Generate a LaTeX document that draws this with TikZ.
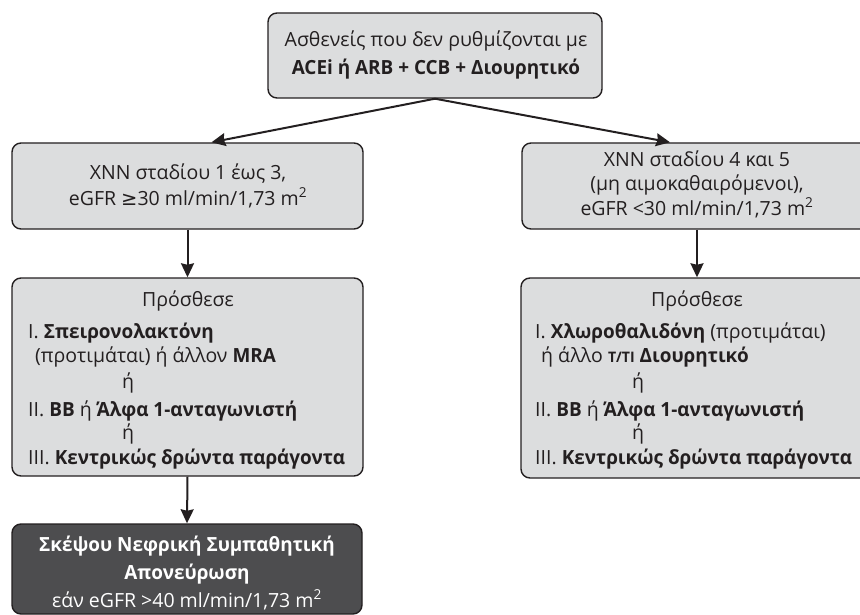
\documentclass[tikz,border=0pt]{standalone}
\usepackage{fontspec}
\setmainfont{Open Sans}[BoldFeatures={FakeStretch=0.97}]
\newfontfamily\symf{DejaVu Sans}
\usetikzlibrary{arrows.meta,calc}
\definecolor{boxgray}{HTML}{DCDDDE}
\definecolor{darkbox}{HTML}{4D4D4F}
\definecolor{edge}{HTML}{231F20}
\begin{document}
\begin{tikzpicture}[x=1pt,y=-1pt,
  box/.style={draw=edge, line width=1.4pt, rounded corners=9pt, fill=boxgray, inner sep=0pt},
  dbox/.style={draw=edge, line width=1.4pt, rounded corners=9pt, fill=darkbox, inner sep=0pt},
  arr/.style={draw=edge, line width=2pt, -{Stealth[length=14pt,width=13pt,inset=1.5pt]}},
  txt/.style={font=\fontsize{19.5}{22}\selectfont, text=edge, inner sep=0pt, anchor=base},
  ltxt/.style={txt, anchor=base west},
  wtxt/.style={txt, text=white}]
\useasboundingbox (0,0) rectangle (860,615);
\clip (0,0) rectangle (860,615);

% boxes
\node[box, minimum width=334pt, minimum height=85pt] (top) at (435,55.5) {};
\node[box, minimum width=351pt, minimum height=86pt] (L2) at (187.5,186) {};
\node[box, minimum width=350pt, minimum height=86pt] (R2) at (697,186) {};
\node[box, minimum width=351pt, minimum height=198pt] (L3) at (187.5,377) {};
\node[box, minimum width=352pt, minimum height=200pt] (R3) at (697,378) {};
\node[dbox, minimum width=350pt, minimum height=90pt] (D) at (187,569) {};

% arrows
\draw[arr] (top.south) -- ([xshift=24pt]L2.north);
\draw[arr] (top.south) -- ([xshift=-27pt]R2.north);
\draw[arr] (L2.south) -- (L3.north);
\draw[arr] (R2.south) -- (R3.north);
\draw[arr] (L3.south) -- (D.north);

% top box text
\node[txt] (t1a) at (436,47) {Ασθενείς που δεν ρυθμίζονται με};
\node[txt] (t1b) at (436,75) {\bfseries ACEi ή ARB + CCB + Διουρητικό};

% left stage box
\node[txt] (l2a) at (188,180) {ΧΝΝ σταδίου 1 έως 3,};
\node[txt] (l2b) at (188,205) {eGFR {\symf ≥}30 ml/min/1,73 m\textsuperscript{2}};

% right stage box
\node[txt] (r2a) at (697,167) {ΧΝΝ σταδίου 4 και 5};
\node[txt] (r2b) at (697,190) {(μη αιμοκαθαιρόμενοι),};
\node[txt] (r2c) at (697,215) {eGFR <30 ml/min/1,73 m\textsuperscript{2}};

% left add box
\node[txt] (l3a) at (188,306) {Πρόσθεσε};
\node[ltxt] (l3b) at (28,338) {I. \textbf{Σπειρονολακτόνη}};
\node[ltxt] (l3c) at (35,362) {(προτιμάται) ή άλλον \textbf{MRA}};
\node[txt] (l3d) at (128,388) {ή};
\node[ltxt] (l3e) at (28,416) {II. \textbf{BB} ή \textbf{Άλφα 1-ανταγωνιστή}};
\node[txt] (l3f) at (128,439) {ή};
\node[ltxt] (l3g) at (28,464) {III. \textbf{Κεντρικώς δρώντα παράγοντα}};

% right add box
\node[txt] (r3a) at (697,306) {Πρόσθεσε};
\node[ltxt] (r3b) at (535,338) {I. \textbf{Χλωροθαλιδόνη} (προτιμάται)};
\node[ltxt] (r3c) at (541,362) {ή άλλο \textbf{{\fontsize{14.5}{16}\selectfont Τ/ΤΙ} Διουρητικό}};
\node[txt] (r3d) at (638,388) {ή};
\node[ltxt] (r3e) at (535,416) {II. \textbf{BB} ή \textbf{Άλφα 1-ανταγωνιστή}};
\node[txt] (r3f) at (638,439) {ή};
\node[ltxt] (r3g) at (535,464) {III. \textbf{Κεντρικώς δρώντα παράγοντα}};

% dark box
\node[wtxt] (d1) at (187,551) {\bfseries Σκέψου Νεφρική Συμπαθητική};
\node[wtxt] (d2) at (187,579) {\bfseries Απονεύρωση};
\node[wtxt] (d3) at (187,607) {εάν eGFR >40 ml/min/1,73 m\textsuperscript{2}};
\end{tikzpicture}
\end{document}
